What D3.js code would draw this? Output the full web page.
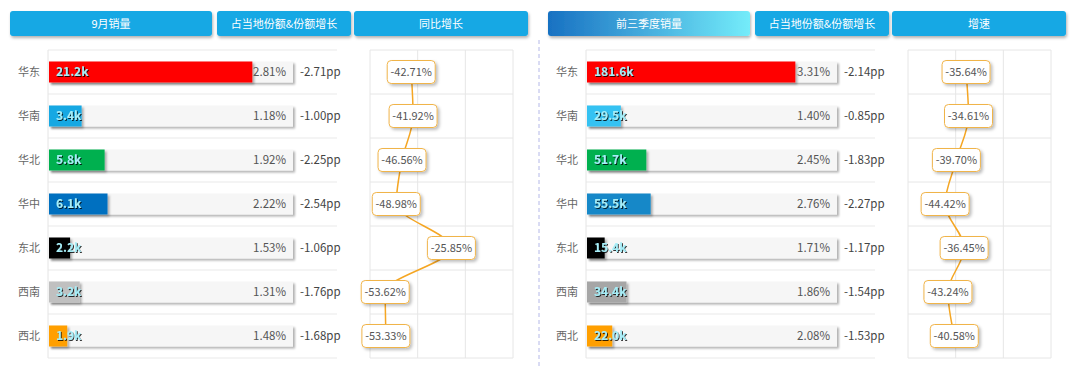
<!DOCTYPE html>
<html>
<head>
<meta charset="utf-8">
<script src="https://cdn.jsdelivr.net/npm/d3@7/dist/d3.min.js"></script>
<style>
  html, body { margin: 0; padding: 0; background: #fff; }
  svg { display: block; font-family: "Noto Sans CJK SC", "Noto Sans", sans-serif; }
</style>
</head>
<body>
<div id="chart"></div>
<script>
// region names (rows)
const regions = ['华东', '华南', '华北', '华中', '东北', '西南', '西北'];

// September
const sepSales = [21.2, 3.4, 5.8, 6.1, 2.2, 3.2, 1.9];
const sepShare = [2.81, 1.18, 1.92, 2.22, 1.53, 1.31, 1.48];
const sepShareChg = [-2.71, -1.00, -2.25, -2.54, -1.06, -1.76, -1.68];
const sepYoY = [-42.71, -41.92, -46.56, -48.98, -25.85, -53.62, -53.33];

// first three quarters
const ytdSales = [181.6, 29.5, 51.7, 55.5, 15.4, 34.4, 22.0];
const ytdShare = [3.31, 1.40, 2.45, 2.76, 1.71, 1.86, 2.08];
const ytdShareChg = [-2.14, -0.85, -1.83, -2.27, -1.17, -1.54, -1.53];
const ytdGrowth = [-35.64, -34.61, -39.70, -44.42, -36.45, -43.24, -40.58];

// header titles
const sepHeaders = ['9月销量', '占当地份额&份额增长', '同比增长'];
const ytdHeaders = ['前三季度销量', '占当地份额&份额增长', '增速'];

const sepColors = ['#ff0000', '#17a8e3', '#00b050', '#0070c0', '#000000', '#c0c0c0', '#ff9f00'];
const ytdColors = ['#ff0000', '#35c2f2', '#00b050', '#1488c8', '#000000', '#a6a6a6', '#ff9f00'];

const W = 1080, H = 371;
const svg = d3.select('#chart').append('svg')
    .attr('width', W)
    .attr('height', H);

svg.append('rect').attr('width', W).attr('height', H).attr('fill', '#fff');

const defs = svg.append('defs');
const shadow = (id, dx, dy, sd, op) => {
    const f = defs.append('filter').attr('id', id)
        .attr('x', '-20%').attr('y', '-40%').attr('width', '140%').attr('height', '180%');
    f.append('feDropShadow')
        .attr('dx', dx).attr('dy', dy).attr('stdDeviation', sd)
        .attr('flood-color', '#000').attr('flood-opacity', op);
};
shadow('hdrShadow', 1, 2, 1.5, 0.3);
shadow('barShadow', 2, 2, 1.2, 0.3);
shadow('tipShadow', 2, 2, 1.5, 0.25);
shadow('txtShadow', 1, 1, 0.5, 0.8);

const grad = defs.append('linearGradient').attr('id', 'hdrGrad')
    .attr('x1', '0%').attr('x2', '100%');
grad.append('stop').attr('offset', '0%').attr('stop-color', '#1871c2');
grad.append('stop').attr('offset', '100%').attr('stop-color', '#74ecfa');

// vertical dashed divider
svg.append('line')
    .attr('x1', 539).attr('x2', 539).attr('y1', 40).attr('y2', 366)
    .attr('stroke', '#b4b8e8').attr('stroke-width', 1).attr('stroke-dasharray', '4,3');

function drawPanel(ox, headers, sales, share, shareChg, growth, colors, firstFill, bgEnd) {
    const g = svg.append('g').attr('transform', `translate(${ox},0)`);

    // headers
    const hdrs = [[10, 212], [217, 351], [354, 528]];
    hdrs.forEach((h, i) => {
        g.append('rect')
            .attr('x', h[0]).attr('y', 11)
            .attr('width', h[1] - h[0]).attr('height', 25)
            .attr('rx', 3)
            .attr('fill', i === 0 ? firstFill : '#12a8e4')
            .attr('filter', 'url(#hdrShadow)');
        g.append('text')
            .attr('x', (h[0] + h[1]) / 2).attr('y', 24)
            .attr('dy', '0.35em')
            .attr('text-anchor', 'middle')
            .attr('fill', '#fff')
            .style('font-size', '11px')
            .text(headers[i]);
    });

    const y = d3.scaleBand()
        .domain(regions)
        .range([50, 358])
        .padding(0);
    const bw = y.bandwidth();

    // ----- bar part -----
    const bx0 = 49, bx1 = 337;
    const bgMax = d3.max(sales) * 1.2;
    const x = d3.scaleLinear().domain([0, bgMax]).range([bx0, bgEnd]);

    // gridlines
    g.selectAll('.hgrid')
        .data(d3.range(regions.length + 1))
        .join('line')
        .attr('x1', bx0 - 1).attr('x2', bx1)
        .attr('y1', i => 50 + i * bw).attr('y2', i => 50 + i * bw)
        .attr('stroke', '#e9e9e9');
    g.append('line')
        .attr('x1', bx0 - 1).attr('x2', bx0 - 1)
        .attr('y1', 50).attr('y2', 358)
        .attr('stroke', '#e4e4e4');

    // category labels
    g.selectAll('.cat')
        .data(regions)
        .join('text')
        .attr('x', 18)
        .attr('y', d => y(d) + bw / 2)
        .attr('dy', '0.35em')
        .attr('fill', '#666')
        .style('font-size', '11px')
        .text(d => d);

    const rows = regions.map((r, i) => ({ r, v: sales[i], s: share[i], c: shareChg[i], col: colors[i] }));
    const bh = 21;

    // background bars
    g.selectAll('.bg')
        .data(rows)
        .join('rect')
        .attr('x', bx0)
        .attr('y', d => y(d.r) + bw / 2 - bh / 2)
        .attr('width', x(bgMax) - bx0)
        .attr('height', bh)
        .attr('fill', '#f6f6f6')
        .attr('filter', 'url(#barShadow)');

    // value bars
    g.selectAll('.val')
        .data(rows)
        .join('rect')
        .attr('x', bx0)
        .attr('y', d => y(d.r) + bw / 2 - bh / 2)
        .attr('width', d => x(d.v) - bx0)
        .attr('height', bh)
        .attr('fill', d => d.col)
        .attr('filter', 'url(#barShadow)');

    // value labels
    g.selectAll('.vlab')
        .data(rows)
        .join('text')
        .attr('x', bx0 + 7)
        .attr('y', d => y(d.r) + bw / 2)
        .attr('dy', '0.36em')
        .attr('fill', '#a6eef8')
        .attr('filter', 'url(#txtShadow)')
        .style('font-size', '12px')
        .style('font-weight', 'bold')
        .text(d => d.v.toFixed(1) + 'k');

    // share labels
    g.selectAll('.slab')
        .data(rows)
        .join('text')
        .attr('x', x(bgMax) - 7)
        .attr('y', d => y(d.r) + bw / 2)
        .attr('dy', '0.36em')
        .attr('text-anchor', 'end')
        .attr('fill', '#555')
        .style('font-size', '11.5px')
        .text(d => d.s.toFixed(2) + '%');

    g.selectAll('.clab')
        .data(rows)
        .join('text')
        .attr('x', x(bgMax) + 7)
        .attr('y', d => y(d.r) + bw / 2)
        .attr('dy', '0.36em')
        .attr('fill', '#444')
        .style('font-size', '11.5px')
        .text(d => d.c.toFixed(2) + 'pp');

    // ----- growth line part -----
    const lx = d3.scaleLinear().domain([-60, 0]).range([370, 513]);
    const lg = g.append('g');
    lg.selectAll('.vg')
        .data(lx.ticks(3))
        .join('line')
        .attr('x1', d => lx(d)).attr('x2', d => lx(d))
        .attr('y1', 50).attr('y2', 358)
        .attr('stroke', '#e6e6e6');
    lg.selectAll('.hg')
        .data(d3.range(regions.length + 1))
        .join('line')
        .attr('x1', lx(-60)).attr('x2', lx(0))
        .attr('y1', i => 50 + i * bw).attr('y2', i => 50 + i * bw)
        .attr('stroke', '#e6e6e6');

    const pts = regions.map((r, i) => ({ r, v: growth[i] }));
    const line = d3.line()
        .x(d => lx(d.v))
        .y(d => y(d.r) + bw / 2)
        .curve(d3.curveMonotoneY);
    lg.append('path')
        .datum(pts)
        .attr('d', line)
        .attr('fill', 'none')
        .attr('stroke', '#f5a623')
        .attr('stroke-width', 1.5);

    const tips = lg.selectAll('.tip')
        .data(pts)
        .join('g')
        .attr('transform', d => `translate(${lx(d.v)},${y(d.r) + bw / 2})`);
    tips.append('rect')
        .attr('x', -24).attr('y', -11.5)
        .attr('width', 48).attr('height', 23)
        .attr('rx', 4)
        .attr('fill', '#fff')
        .attr('stroke', '#f0b44a')
        .attr('stroke-width', 1)
        .attr('filter', 'url(#tipShadow)');
    tips.append('text')
        .attr('text-anchor', 'middle')
        .attr('dy', '0.36em')
        .attr('fill', '#555')
        .style('font-size', '11px')
        .text(d => d.v.toFixed(2) + '%');
}

drawPanel(0, sepHeaders, sepSales, sepShare, sepShareChg, sepYoY, sepColors, '#12a8e4', 293);
drawPanel(538, ytdHeaders, ytdSales, ytdShare, ytdShareChg, ytdGrowth, ytdColors, 'url(#hdrGrad)', 299);
</script>
</body>
</html>
